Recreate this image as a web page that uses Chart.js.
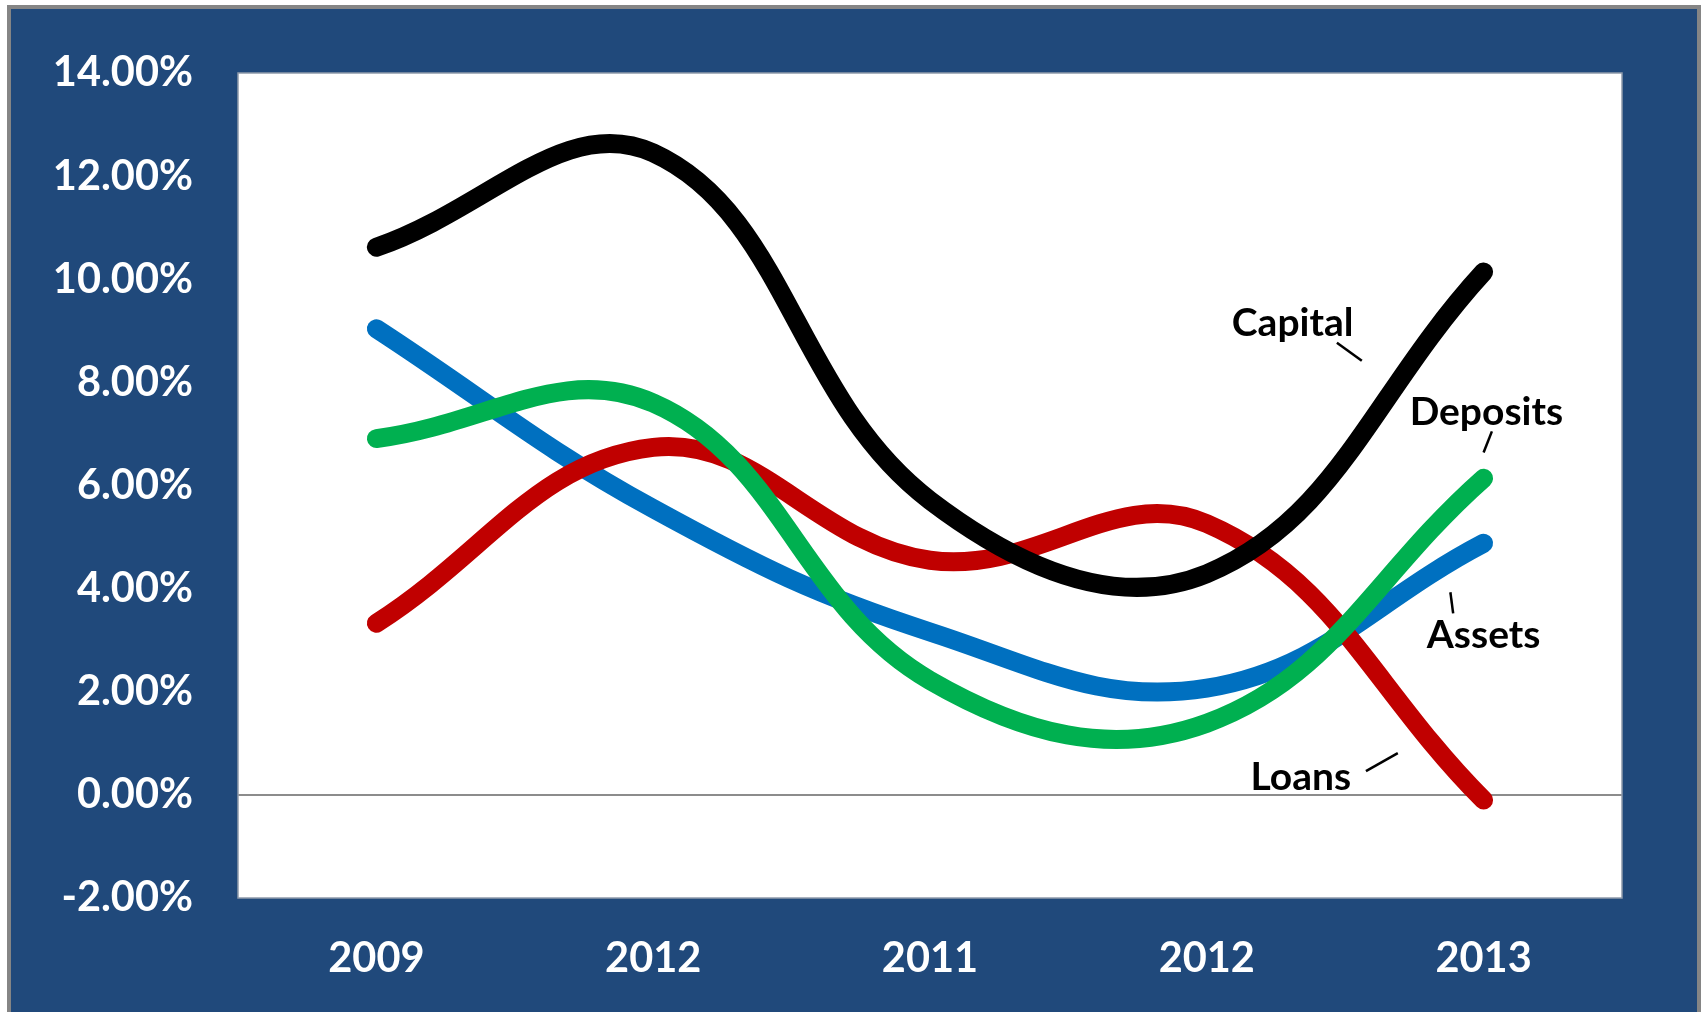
<!DOCTYPE html>
<html>
<head>
<meta charset="utf-8">
<title>Growth rates</title>
<script src="https://cdn.jsdelivr.net/npm/chart.js@4.4.0/dist/chart.umd.min.js"></script>
<style>
  html, body { margin: 0; padding: 0; background: #fff; overflow: hidden; }
  #frame {
    position: absolute; left: 7px; top: 5px; width: 1694px; height: 1100px;
    background: #20497b; border: 4px solid #858585; box-sizing: border-box;
  }
  #wrap { position: absolute; left: 0; top: 0; width: 1702px; height: 1012px; }
</style>
</head>
<body>
<div id="frame"></div>
<div id="wrap"><canvas id="myChart"></canvas></div>
<script>
const years = ['2009', '2012', '2011', '2012', '2013'];

const capital  = [10.62, 12.45, 5.71, 4.29, 10.14];
const deposits = [6.91, 7.60, 2.22, 1.39, 6.14];
const loans    = [3.33, 6.74, 4.55, 5.26, -0.10];
const assets   = [9.04, 5.55, 3.16, 2.07, 4.88];

const yTicks = [-2, 0, 2, 4, 6, 8, 10, 12, 14];

// series name labels with a short leader line, placed in axis units (category index, %)
const notes = [
  { text: 'Capital',  at: [3.31, 9.15], tick: [[3.47, 8.77], [3.56, 8.42]] },
  { text: 'Deposits', at: [4.01, 7.41], tick: [[4.03, 7.05], [4.00, 6.64]] },
  { text: 'Assets',   at: [4.00, 3.09], tick: [[3.88, 3.93], [3.89, 3.52]] },
  { text: 'Loans',    at: [3.34, 0.34], tick: [[3.575, 0.46], [3.69, 0.81]] }
];

const plotBox = {
  id: 'plotBox',
  beforeDraw(chart) {
    const { ctx, chartArea: a } = chart;
    ctx.save();
    ctx.fillStyle = '#ffffff';
    ctx.fillRect(a.left, a.top, a.right - a.left, a.bottom - a.top);
    ctx.restore();
  },
  afterDraw(chart) {
    const { ctx, chartArea: a } = chart;
    ctx.save();
    ctx.strokeStyle = '#8e9aab';
    ctx.lineWidth = 1.5;
    ctx.strokeRect(a.left, a.top, a.right - a.left, a.bottom - a.top);
    ctx.restore();
  }
};

const seriesNotes = {
  id: 'seriesNotes',
  afterDatasetsDraw(chart) {
    const { ctx, scales: { x, y } } = chart;
    ctx.save();
    ctx.fillStyle = '#000';
    ctx.strokeStyle = '#000';
    ctx.lineWidth = 2.5;
    ctx.font = 'bold 39px Lato';
    ctx.textAlign = 'center';
    ctx.textBaseline = 'middle';
    notes.forEach(n => {
      ctx.fillText(n.text, x.getPixelForValue(n.at[0]), y.getPixelForValue(n.at[1]));
      ctx.beginPath();
      ctx.moveTo(x.getPixelForValue(n.tick[0][0]), y.getPixelForValue(n.tick[0][1]));
      ctx.lineTo(x.getPixelForValue(n.tick[1][0]), y.getPixelForValue(n.tick[1][1]));
      ctx.stroke();
    });
    ctx.restore();
  }
};

function line(label, data, color) {
  return {
    label: label,
    data: data,
    borderColor: color,
    backgroundColor: color,
    borderWidth: 19,
    borderCapStyle: 'round',
    borderJoinStyle: 'round',
    tension: 0.4,
    pointRadius: 0,
    fill: false
  };
}

const tickFont = { family: 'Lato', weight: 'bold', size: 41.5 };

function draw() {
  const ctx = document.getElementById('myChart').getContext('2d');
  new Chart(ctx, {
    type: 'line',
    data: {
      labels: years,
      datasets: [
        line('Capital', capital, '#000000'),
        line('Deposits', deposits, '#00b050'),
        line('Loans', loans, '#c00000'),
        line('Assets', assets, '#0070c0')
      ]
    },
    options: {
      responsive: true,
      maintainAspectRatio: false,
      animation: false,
      layout: { padding: { top: 73, right: 80, bottom: 0, left: 0 } },
      plugins: { legend: { display: false }, tooltip: { enabled: false } },
      scales: {
        x: {
          offset: true,
          grid: { display: false },
          border: { display: false },
          ticks: { color: '#fff', font: tickFont, padding: 28, maxRotation: 0 },
          afterFit(scale) { scale.height = 114; }
        },
        y: {
          min: -2,
          max: 14,
          afterBuildTicks(scale) { scale.ticks = yTicks.map(v => ({ value: v })); },
          grid: {
            drawTicks: false,
            lineWidth: 2,
            color: c => (c.tick && c.tick.value === 0 ? '#8c8c8c' : 'rgba(0,0,0,0)')
          },
          border: { display: false },
          ticks: {
            color: '#fff',
            font: tickFont,
            padding: 45,
            callback: v => v.toFixed(2) + '%'
          },
          afterFit(scale) { scale.width = 238; }
        }
      }
    },
    plugins: [plotBox, seriesNotes]
  });
}

document.fonts.load('bold 40px Lato').then(draw, draw);
</script>
</body>
</html>
